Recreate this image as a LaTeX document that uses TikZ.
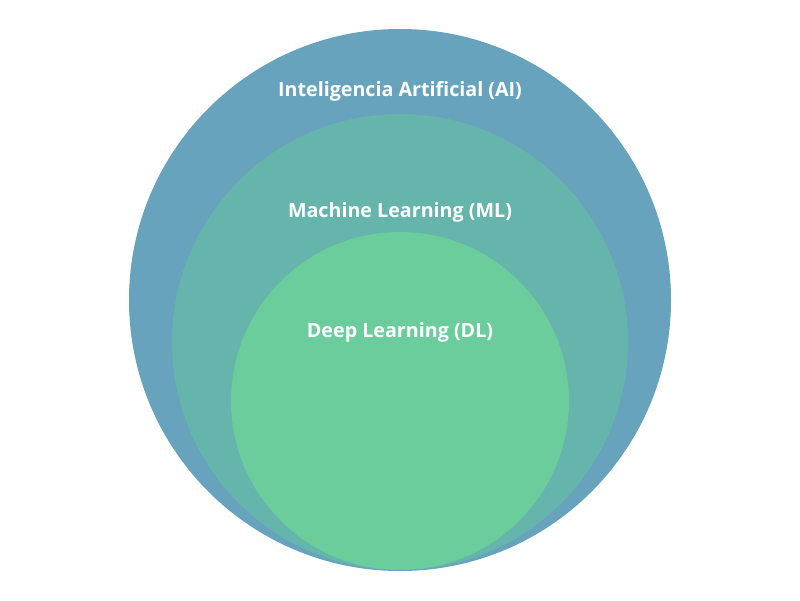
\documentclass[tikz,border=0pt]{standalone}
\usepackage{fontspec}
\setmainfont{Open Sans}
\definecolor{mcolAI}{HTML}{67A3BC}
\definecolor{mcolML}{HTML}{65B5AC}
\definecolor{mcolDL}{HTML}{6BCC9C}
\begin{document}
\begin{tikzpicture}[x=0.025cm,y=0.025cm,every node/.style={text=white,font=\bfseries\fontsize{14}{17}\selectfont,inner sep=0pt},set/.style={draw=none}]
                \useasboundingbox (0,0) rectangle (800,600);
                %Các vòng tròn: tâm x/tâm y/bán kính/màu
                \foreach \mname/\cx/\cy/\r in {AI/400/300/271,ML/400/258/228,DL/400/199/169}{
                    \coordinate (c\mname) at (\cx,\cy);
                    \fill[set,mcol\mname] (c\mname) circle[radius=\r];
                }
                \path node (lAI) at (400,509) {Inteligencia Artificial (AI)}
                      node (lML) at (400,388) {Machine Learning (ML)}
                      node (lDL) at (400,268) {Deep Learning (DL)};
            \end{tikzpicture}
\end{document}
